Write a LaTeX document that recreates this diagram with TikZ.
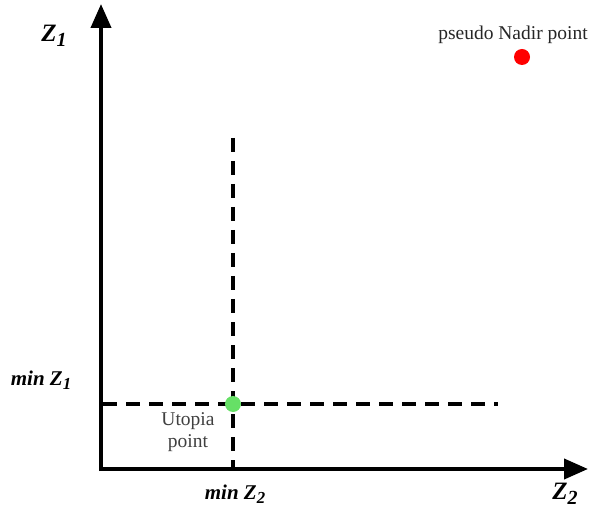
\documentclass[tikz,border=0pt]{standalone}
\usepackage{fontspec}
\setmainfont{Liberation Serif}
\usetikzlibrary{arrows.meta}
\newcommand\lowsub[1]{\raisebox{-0.4ex}{\scalebox{0.8}{#1}}}
\begin{document}
\begin{tikzpicture}[x=1pt,y=-1pt,
  axis/.style={line width=4pt,-{Triangle[length=24pt,width=20pt]}},
  dashline/.style={line width=3.2pt,dash pattern=on 14pt off 9pt},
  lab/.style={font=\fontsize{25}{28}\selectfont\bfseries\itshape},
  minlab/.style={font=\fontsize{21}{24}\selectfont\bfseries\itshape},
  txt/.style={font=\fontsize{19.5}{22}\selectfont},
  dot/.style={circle,minimum size=16pt,inner sep=0pt}]
\useasboundingbox (0,0) rectangle (591,510);
\coordinate (O) at (101,469);
\coordinate (ytip) at (101,4);
\coordinate (xtip) at (588,469);
\coordinate (vtop) at (233,138);
\coordinate (vbot) at (233,469);
\coordinate (hleft) at (103,404);
\coordinate (hright) at (498,404);
\draw[dashline] (vtop) -- (vbot);
\draw[dashline] (hleft) -- (hright);
\draw[axis] (O) ++(0,2) -- (ytip);
\draw[axis] ([xshift=-2pt]O) -- (xtip);
\node[dot,fill=green!80!black!60!white] (utopia) at (233,404) {};
\node[dot,fill=red] (nadir) at (522,57) {};
\node[lab] (z1) at (54,36) {Z\lowsub{1}};
\node[lab] (z2) at (565,494) {Z\lowsub{2}};
\node[minlab] (minz1) at (41,380) {min Z\lowsub{1}};
\node[minlab] (minz2) at (235,494) {min Z\lowsub{2}};
\node[txt,text=black!75,align=center] (ulab) at (188,432) {Utopia\\point};
\node[txt,text=black!85] (nlab) at (513,35) {pseudo Nadir point};
\end{tikzpicture}
\end{document}
